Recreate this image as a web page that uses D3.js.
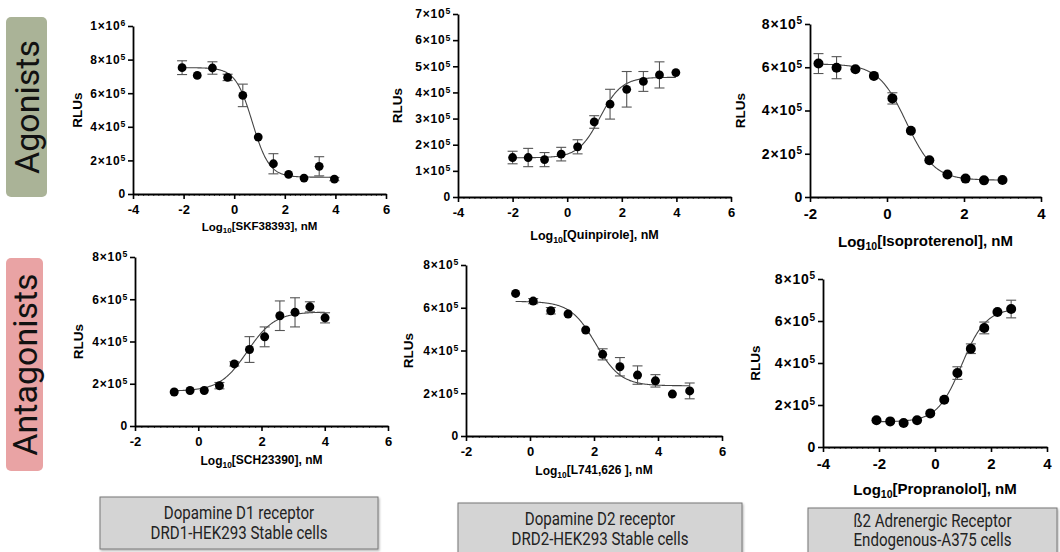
<!DOCTYPE html>
<html lang="en">
  <head>
    <meta charset="UTF-8" />
    <title>Dose response curves</title>
    <script src="https://d3js.org/d3.v7.min.js"></script>
    <style>
      body { margin: 0; background: #fff; }
      svg { display: block; }
    </style>
  </head>
  <body>
    <div id="chart"></div>
  </body>
  <script>
    // --- data (RLU values, errors in RLU) ---
    const skfLogX = [-2.06, -1.46, -0.86, -0.26, 0.34, 0.95, 1.55, 2.15, 2.76, 3.36, 3.96];
    const skfRLU = [752e3, 706e3, 750e3, 694e3, 587e3, 339e3, 180e3, 117e3, 95e3, 165e3, 89e3];
    const skfErr = [41e3, 0, 37e3, 19e3, 67e3, 0, 60e3, 0, 0, 57e3, 10e3];
    const skfFit = [100e3, 752e3, 0.72, -1.3]; // bottom, top, logEC50, hill

    const quinLogX = [-2.0, -1.43, -0.83, -0.22, 0.38, 0.99, 1.57, 2.18, 2.79, 3.38, 3.98];
    const quinRLU = [151e3, 151e3, 143e3, 164e3, 192e3, 287e3, 355e3, 412e3, 442e3, 467e3, 476e3];
    const quinErr = [24e3, 35e3, 27e3, 26e3, 27e3, 24e3, 57e3, 68e3, 38e3, 50e3, 0];
    const quinFit = [150e3, 458e3, 1.2, 1.1];

    const isoLogX = [-1.78, -1.31, -0.82, -0.34, 0.14, 0.62, 1.1, 1.57, 2.04, 2.52, 3.0];
    const isoRLU = [617e3, 598e3, 591e3, 560e3, 456e3, 306e3, 170e3, 104e3, 85e3, 77e3, 79e3];
    const isoErr = [46e3, 51e3, 0, 0, 26e3, 0, 0, 0, 0, 0, 0];
    const isoFit = [78e3, 615e3, 0.5, -1.2];

    const schLogX = [-0.76, -0.26, 0.19, 0.67, 1.14, 1.62, 2.1, 2.58, 3.06, 3.53, 4.01];
    const schRLU = [161e3, 168e3, 168e3, 191e3, 294e3, 362e3, 422e3, 522e3, 538e3, 564e3, 512e3];
    const schErr = [0, 0, 0, 15e3, 10e3, 61e3, 47e3, 70e3, 69e3, 24e3, 24e3];
    const schFit = [165e3, 540e3, 1.55, 1.0];

    const lLogX = [-0.45, 0.1, 0.65, 1.19, 1.74, 2.27, 2.81, 3.36, 3.92, 4.45, 4.99];
    const lRLU = [667e3, 631e3, 586e3, 571e3, 496e3, 382e3, 324e3, 285e3, 258e3, 196e3, 211e3];
    const lErr = [0, 12e3, 15e3, 0, 0, 26e3, 43e3, 43e3, 29e3, 0, 37e3];
    const lFit = [235e3, 630e3, 2.05, -1.1];

    const propLogX = [-2.09, -1.6, -1.12, -0.64, -0.17, 0.33, 0.8, 1.28, 1.76, 2.23, 2.72];
    const propRLU = [127e3, 122e3, 114e3, 127e3, 160e3, 225e3, 352e3, 468e3, 567e3, 643e3, 657e3];
    const propErr = [0, 0, 0, 0, 0, 0, 30e3, 23e3, 28e3, 0, 42e3];
    const propFit = [120e3, 660e3, 0.95, 1.0];

    const groupLabels = ["Agonists", "Antagonists"];
    const receptorLines = [
      ["Dopamine D1 receptor", "DRD1-HEK293 Stable cells"],
      ["Dopamine D2 receptor", "DRD2-HEK293 Stable cells"],
      ["ß2 Adrenergic Receptor", "Endogenous-A375 cells"]
    ];

    // --- layout of the six panels ---
    const panels = [
      { x: skfLogX, y: skfRLU, err: skfErr, fit: skfFit, drug: "SKF38393",
        xd: [-4, 6], yMax: 1e6, yStep: 2e5, left: 133, right: 386, top: 26, bottom: 194,
        fs: 12, tfs: 11.5, r: 4.4, ylx: 77, ty: 231 },
      { x: quinLogX, y: quinRLU, err: quinErr, fit: quinFit, drug: "Quinpirole",
        xd: [-4, 6], yMax: 7e5, yStep: 1e5, left: 458, right: 731, top: 14, bottom: 197,
        fs: 12, tfs: 12.5, r: 4.4, ylx: 397, ty: 240 },
      { x: isoLogX, y: isoRLU, err: isoErr, fit: isoFit, drug: "Isoproterenol",
        xd: [-2, 4], yMax: 8e5, yStep: 2e5, left: 810, right: 1041, top: 24, bottom: 197,
        fs: 14, tfs: 15, r: 5, ylx: 740, ty: 247 },
      { x: schLogX, y: schRLU, err: schErr, fit: schFit, drug: "SCH23390",
        xd: [-2, 6], yMax: 8e5, yStep: 2e5, left: 135, right: 388, top: 257, bottom: 426,
        fs: 12, tfs: 12, r: 4.5, ylx: 78, ty: 465 },
      { x: lLogX, y: lRLU, err: lErr, fit: lFit, drug: "L741,626 ",
        xd: [-2, 6], yMax: 8e5, yStep: 2e5, left: 466, right: 722, top: 265, bottom: 436,
        fs: 12, tfs: 12, r: 4.5, ylx: 408, ty: 475 },
      { x: propLogX, y: propRLU, err: propErr, fit: propFit, drug: "Propranolol",
        xd: [-4, 4], yMax: 8e5, yStep: 2e5, left: 823, right: 1047, top: 279, bottom: 447,
        fs: 14, tfs: 15, r: 5, ylx: 755, ty: 495 }
    ];

    const svg = d3.select("#chart").append("svg").attr("width", 1060).attr("height", 552);
    const FONT = "'Liberation Sans', Arial, sans-serif";

    // 4 parameter logistic
    function fourPL(fit, v) {
      const [b, t, ec, h] = fit;
      return b + (t - b) / (1 + Math.pow(10, (ec - v) * h));
    }

    function sciLabel(sel, v) {
      sel.text(null);
      if (v === 0) { sel.append("tspan").text("0"); return; }
      const e = Math.floor(Math.log10(v) + 1e-9);
      const m = Math.round(v / Math.pow(10, e));
      sel.append("tspan").text(m + "×10");
      sel.append("tspan").attr("dy", "-0.45em").attr("font-size", "0.72em").text(e);
    }

    function drawPanel(p) {
      const x = d3.scaleLinear().domain(p.xd).range([p.left, p.right]);
      const y = d3.scaleLinear().domain([0, p.yMax]).range([p.bottom, p.top]);
      const g = svg.append("g");

      // minor x ticks
      g.append("g")
        .attr("transform", `translate(0,${p.bottom})`)
        .call(d3.axisBottom(x).tickValues(d3.range(p.xd[0], p.xd[1] + 1e-6, 0.2)).tickSize(2).tickSizeOuter(0).tickFormat(""))
        .call((a) => a.select(".domain").remove())
        .selectAll("line").attr("stroke", "#222").attr("stroke-width", 0.8);

      // x axis
      const xa = g.append("g")
        .attr("transform", `translate(0,${p.bottom})`)
        .call(d3.axisBottom(x).tickValues(d3.range(p.xd[0], p.xd[1] + 1e-6, 2)).tickSize(5).tickSizeOuter(0).tickFormat((d) => String(d)));
      xa.select(".domain").attr("stroke", "#000").attr("stroke-width", 1.8);
      xa.selectAll(".tick line").attr("stroke", "#000").attr("stroke-width", 1.6);
      xa.selectAll("text").attr("font-family", FONT).attr("font-weight", "bold")
        .attr("font-size", p.fs + 1).attr("fill", "#000").attr("dy", "0.9em");

      // y axis
      const ya = g.append("g")
        .attr("transform", `translate(${p.left},0)`)
        .call(d3.axisLeft(y).tickValues(d3.range(0, p.yMax + 1, p.yStep)).tickSize(5).tickSizeOuter(0));
      ya.select(".domain").attr("stroke", "#000").attr("stroke-width", 1.8);
      ya.selectAll(".tick line").attr("stroke", "#000").attr("stroke-width", 1.6);
      ya.selectAll("text").attr("font-family", FONT).attr("font-weight", "bold")
        .attr("font-size", p.fs).attr("fill", "#000").attr("x", -7)
        .attr("letter-spacing", 0.8)
        .each(function (d) { sciLabel(d3.select(this), d); });

      // fitted curve
      const xs = d3.range(p.x[0], p.x[p.x.length - 1] + 1e-6, 0.02);
      g.append("path")
        .datum(xs)
        .attr("d", d3.line().x((v) => x(v)).y((v) => y(fourPL(p.fit, v))))
        .attr("fill", "none").attr("stroke", "#444").attr("stroke-width", 1.1);

      // error bars
      const idx = d3.range(p.x.length).filter((i) => p.err[i] > 0);
      const eb = g.append("g").attr("stroke", "#555").attr("stroke-width", 1.1);
      eb.selectAll("line.v").data(idx).join("line").attr("class", "v")
        .attr("x1", (i) => x(p.x[i])).attr("x2", (i) => x(p.x[i]))
        .attr("y1", (i) => y(p.y[i] - p.err[i])).attr("y2", (i) => y(p.y[i] + p.err[i]));
      ["lo", "hi"].forEach((k) => {
        eb.selectAll("line." + k).data(idx).join("line").attr("class", k)
          .attr("x1", (i) => x(p.x[i]) - 5).attr("x2", (i) => x(p.x[i]) + 5)
          .attr("y1", (i) => y(p.y[i] + (k === "hi" ? 1 : -1) * p.err[i]))
          .attr("y2", (i) => y(p.y[i] + (k === "hi" ? 1 : -1) * p.err[i]));
      });

      // points
      g.selectAll("circle").data(d3.range(p.x.length)).join("circle")
        .attr("cx", (i) => x(p.x[i])).attr("cy", (i) => y(p.y[i]))
        .attr("r", p.r).attr("fill", "#000");

      // y title
      g.append("text")
        .attr("transform", `translate(${p.ylx},${(p.top + p.bottom) / 2}) rotate(-90)`)
        .attr("text-anchor", "middle").attr("dy", "0.35em")
        .attr("font-family", FONT).attr("font-weight", "bold").attr("font-size", 13.5)
        .text("RLUs");

      // x title
      const t = g.append("text")
        .attr("x", (p.left + p.right) / 2).attr("y", p.ty)
        .attr("text-anchor", "middle")
        .attr("font-family", FONT).attr("font-weight", "bold").attr("font-size", p.tfs);
      t.append("tspan").text("Log");
      t.append("tspan").attr("dy", "0.3em").attr("font-size", "0.7em").text("10");
      t.append("tspan").attr("dy", "-0.3em").text("[" + p.drug + "], nM");
    }

    panels.forEach(drawPanel);

    // side labels
    const sideBoxes = [
      { x: 6, y: 17, w: 41, h: 180, fill: "#aab397" },
      { x: 6, y: 258, w: 37, h: 213, fill: "#e9a3a4" }
    ];
    sideBoxes.forEach((b, i) => {
      svg.append("rect").attr("x", b.x).attr("y", b.y).attr("width", b.w).attr("height", b.h)
        .attr("rx", 5).attr("fill", b.fill);
      svg.append("text")
        .attr("transform", `translate(${b.x + b.w / 2},${b.y + b.h / 2}) rotate(-90)`)
        .attr("text-anchor", "middle").attr("dy", "0.36em")
        .attr("font-family", "Roboto, sans-serif").attr("font-size", 34).attr("fill", "#111")
        .text(groupLabels[i]);
    });

    // receptor boxes at the bottom (the page cuts the last two)
    const recBoxes = [
      { x: 100, y: 497, w: 278, h: 52, ty: 22, lh: 20 },
      { x: 458, y: 503, w: 284, h: 56, ty: 22, lh: 20 },
      { x: 808, y: 508, w: 249, h: 52, ty: 19, lh: 19 }
    ];
    const defs = svg.append("defs");
    defs.append("filter").attr("id", "shadow")
      .append("feDropShadow").attr("dx", 1).attr("dy", 1.5).attr("stdDeviation", 1.2)
      .attr("flood-color", "#000").attr("flood-opacity", 0.3);
    recBoxes.forEach((b, i) => {
      svg.append("rect").attr("x", b.x).attr("y", b.y).attr("width", b.w).attr("height", b.h)
        .attr("fill", "#d4d4d4").attr("stroke", "#777").attr("stroke-width", 1)
        .attr("filter", "url(#shadow)");
      receptorLines[i].forEach((line, j) => {
        svg.append("text")
          .attr("transform", `translate(${b.x + b.w / 2},${b.y + b.ty + j * b.lh}) scale(0.84,1)`)
          .attr("text-anchor", "middle")
          .attr("font-family", "Roboto, sans-serif").attr("font-size", 18).attr("fill", "#222")
          .text(line);
      });
    });
  </script>
</html>
